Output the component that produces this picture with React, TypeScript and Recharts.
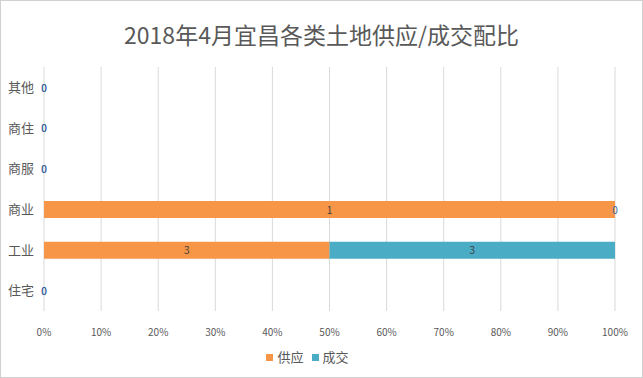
import { BarChart, Bar, XAxis, YAxis, CartesianGrid, Legend, LabelList } from 'recharts';

const categories = ['其他', '商住', '商服', '商业', '工业', '住宅'];
const supply = [0, 0, 0, 1, 3, 0];
const deal = [0, 0, 0, 0, 3, 0];
const pctTicks = [0, 0.1, 0.2, 0.3, 0.4, 0.5, 0.6, 0.7, 0.8, 0.9, 1];

const data = categories.map((name, i) => ({ name, supply: supply[i], deal: deal[i] }));

const FONT = '"Noto Sans CJK SC", "Noto Sans", sans-serif';
const ORANGE = '#F79646';
const TEAL = '#4BACC6';

if (typeof document !== 'undefined') document.body.style.margin = '0';

function BarLabel(props: any) {
  const { x, y, width, height, value } = props;
  const zero = value === 0;
  return (
    <text
      x={x + width / 2}
      y={y + height / 2}
      dy={4}
      textAnchor="middle"
      fontSize={10}
      fontFamily={FONT}
      fill={zero ? '#3A64A0' : '#404040'}
    >
      {value}
    </text>
  );
}

function LegendBox() {
  const items = [
    { label: '供应', color: ORANGE },
    { label: '成交', color: TEAL },
  ];
  return (
    <div style={{ display: 'flex', justifyContent: 'center', gap: 8, fontFamily: FONT, fontSize: 13, color: '#595959', paddingTop: 5, lineHeight: '18px' }}>
      {items.map((it) => (
        <span key={it.label} style={{ display: 'flex', alignItems: 'center' }}>
          <span style={{ width: 7, height: 7, background: it.color, marginRight: 4, display: 'inline-block' }} />
          {it.label}
        </span>
      ))}
    </div>
  );
}

export default function App() {
  return (
    <div
      style={{
        position: 'relative',
        width: 643,
        height: 378,
        boxSizing: 'border-box',
        border: '1px solid #d0d0d0',
        background: '#fff',
      }}
    >
      <div
        style={{
          position: 'absolute',
          top: 17,
          left: 0,
          width: '100%',
          textAlign: 'center',
          fontFamily: FONT,
          fontSize: 23,
          color: '#595959',
          lineHeight: '32px',
        }}
      >
        2018年4月宜昌各类土地供应/成交配比
      </div>
      <div style={{ position: 'absolute', top: -1, left: -1 }}>
        <BarChart
          width={643}
          height={378}
          data={data}
          layout="vertical"
          stackOffset="expand"
          margin={{ top: 67, right: 28, bottom: 0, left: 0 }}
          barSize={17}
        >
          <CartesianGrid horizontal={false} stroke="#d9d9d9" />
          <XAxis
            type="number"
            domain={[0, 1]}
            ticks={pctTicks}
            tickFormatter={(v: number) => `${Math.round(v * 100)}%`}
            axisLine={false}
            tickLine={false}
            tickMargin={12}
            height={32}
            tick={{ fontSize: 10, fill: '#595959', fontFamily: FONT }}
            interval={0}
          />
          <YAxis
            type="category"
            dataKey="name"
            width={44}
            axisLine={false}
            tickLine={false}
            tickMargin={4}
            tick={{ fontSize: 13, fill: '#595959', fontFamily: FONT }}
          />
          <Legend verticalAlign="bottom" height={35} content={<LegendBox />} />
          <Bar dataKey="supply" name="供应" stackId="a" fill={ORANGE} minPointSize={0.01} isAnimationActive={false}>
            <LabelList dataKey="supply" content={<BarLabel />} />
          </Bar>
          <Bar dataKey="deal" name="成交" stackId="a" fill={TEAL} minPointSize={0.01} isAnimationActive={false}>
            <LabelList dataKey="deal" content={<BarLabel />} />
          </Bar>
        </BarChart>
      </div>
    </div>
  );
}
